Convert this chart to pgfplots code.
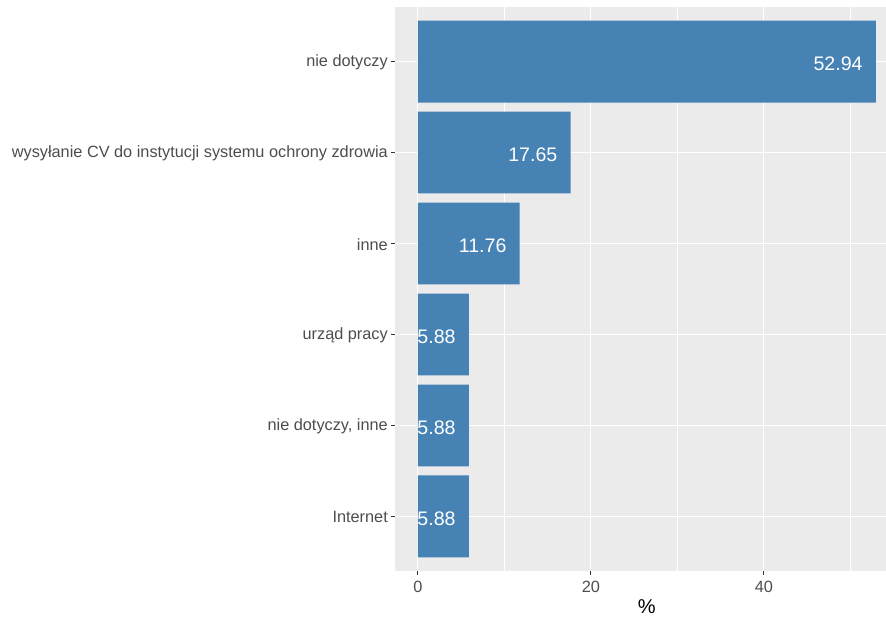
\documentclass[border=0pt]{standalone}
\usepackage{pgfplots}
\pgfplotsset{compat=1.18}
\usepackage{fontspec}
\setmainfont{Liberation Sans}
\definecolor{panel}{HTML}{EBEBEB}
\definecolor{barc}{HTML}{4682B4}
\definecolor{grey30}{HTML}{4D4D4D}
\definecolor{grey20}{HTML}{333333}
\begin{document}
\begin{tikzpicture}[x=1pt,y=1pt]
\useasboundingbox (0,0) rectangle (886,617);
\begin{axis}[
 at={(395pt,46pt)}, anchor=south west,
 scale only axis, width=503.7pt, height=564pt,
 xmin=-2.647, xmax=55.59, ymin=0.4, ymax=6.6,
 xbar, bar width=0.9, bar shift=0pt,
 /pgf/number format/assume math mode=true,
 axis background/.style={fill=panel},
 axis line style={draw=none},
 xtick={0,20,40}, minor xtick={10,30,50},
 ytick={1,2,3,4,5,6},
 yticklabels={Internet,{nie dotyczy, inne},urząd pracy,inne,wysyłanie CV do instytucji systemu ochrony zdrowia,nie dotyczy},
 tick align=outside, major tick length=4pt, minor tick length=0pt,
 tick style={grey20, line width=1.1pt},
 xtick pos=bottom, ytick pos=left,
 xmajorgrids, xminorgrids, ymajorgrids,
 major grid style={white, line width=1.1pt},
 minor grid style={white, line width=0.55pt},
 ticklabel style={font=\fontsize{16.3}{18}\selectfont, text=grey30},
 yticklabel style={inner sep=0pt, xshift=-3pt, yshift=-1pt},
 xticklabel style={inner sep=0pt, yshift=-6pt},
 xlabel={\%},
 xlabel style={font=\fontsize{20}{22}\selectfont, text=black, inner sep=0pt, yshift=-7pt},
 clip=false,
]
\addplot[fill=barc, draw=none,
  nodes near coords={\pgfmathprintnumber[fixed,precision=2,zerofill]{\pgfplotspointmeta}},
  every node near coord/.append style={anchor=east, xshift=-13pt, yshift=-2pt, text=white, font=\fontsize{19.6}{22}\selectfont, inner sep=0pt}]
 coordinates {(5.88,1) (5.88,2) (5.88,3) (11.76,4) (17.65,5) (52.94,6)};
\end{axis}
\end{tikzpicture}
\end{document}
